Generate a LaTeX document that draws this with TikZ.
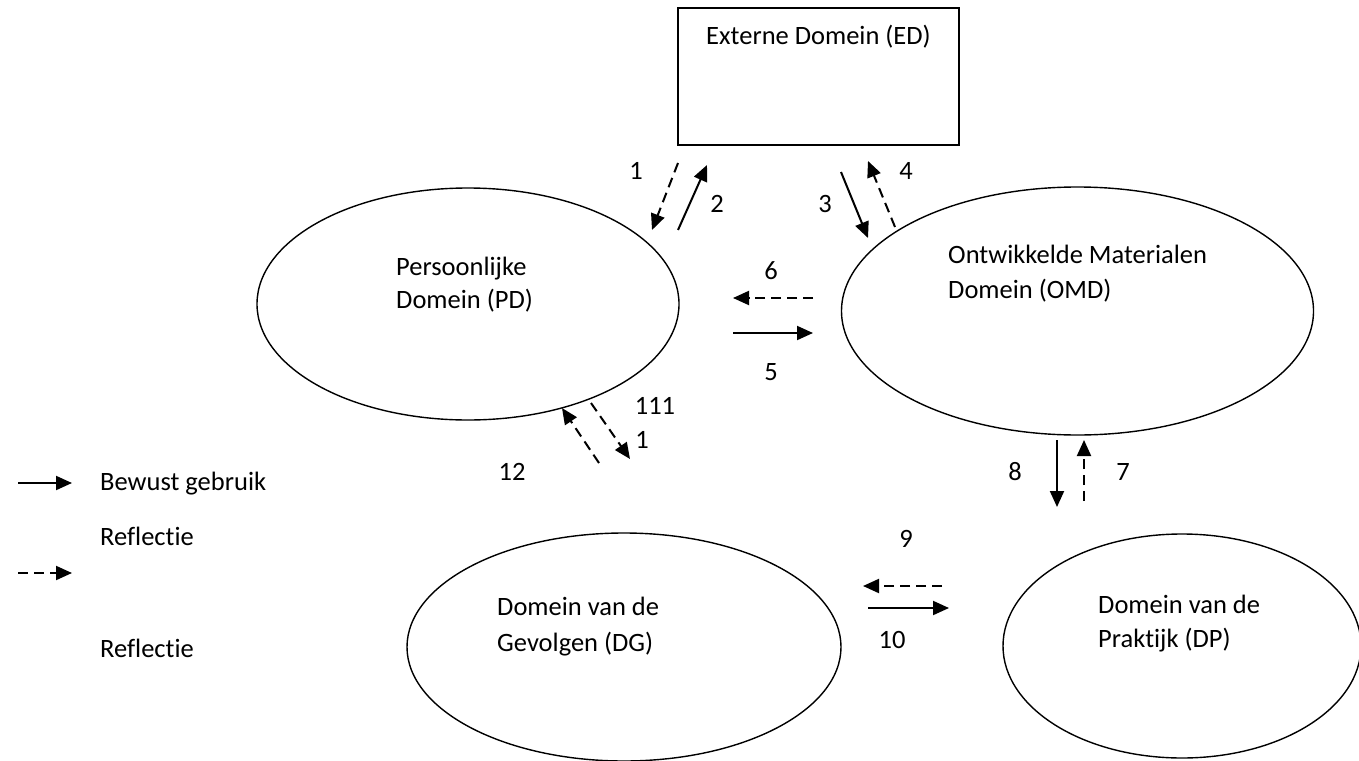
\documentclass[tikz,border=0pt]{standalone}
\usepackage{fontspec}
\setmainfont{Carlito}[Ligatures=NoCommon]
\usetikzlibrary{shapes.geometric,arrows.meta}
\begin{document}
\begin{tikzpicture}[x=1pt,y=-1pt,
  dom/.style={draw=black,line width=1.4pt,ellipse,inner sep=0pt},
  txt/.style={anchor=base west,inner sep=0pt,font=\fontsize{26.5}{34}\selectfont},
  num/.style={anchor=center,inner sep=0pt,font=\fontsize{26.5}{34}\selectfont},
  solidarrow/.style={line width=2pt,-{Triangle[length=16pt,width=14pt]}},
  dasharrow/.style={line width=2pt,dash pattern=on 10pt off 6pt,-{Triangle[length=16pt,width=14pt]}}]
\useasboundingbox (0,0) rectangle (1359,760);
\fill[white] (0,0) rectangle (1359,760);

% domains
\node[draw=black,line width=1.6pt,rectangle,minimum width=281pt,minimum height=137pt,inner sep=0pt] (ed) at (818.5,76.5) {};
\node[dom,minimum width=422pt,minimum height=232pt] (pd) at (468,304) {};
\node[dom,minimum width=472pt,minimum height=248pt] (omd) at (1077.5,311) {};
\node[dom,minimum width=434pt,minimum height=228pt] (dg) at (624,647) {};
\node[dom,minimum width=358pt,minimum height=224pt] (dp) at (1182,646) {};

% texts
\node[txt] (edt) at (706,45) {Externe Domein (ED)};
\node[txt] (pdt1) at (396,275) {Persoonlijke};
\node[txt] (pdt2) at (396,308) {Domein (PD)};
\node[txt] (omdt1) at (948,263) {Ontwikkelde Materialen};
\node[txt] (omdt2) at (948,298) {Domein (OMD)};
\node[txt] (dgt1) at (497,615) {Domein van de};
\node[txt] (dgt2) at (497,651) {Gevolgen (DG)};
\node[txt] (dpt1) at (1098,613) {Domein van de};
\node[txt] (dpt2) at (1098,647) {Praktijk (DP)};

% legend
\node[txt] (lg1) at (100,490) {Bewust gebruik};
\node[txt] (lg2) at (100,545) {Reflectie};
\node[txt] (lg3) at (100,657) {Reflectie};
\coordinate (ls1) at (18,483); \coordinate (le1) at (72,483);
\coordinate (ls2) at (18,573); \coordinate (le2) at (72,573);
\draw[solidarrow] (ls1) -- (le1);
\draw[dasharrow] (ls2) -- (le2);

% arrow end points
\coordinate (a1s) at (678,163); \coordinate (a1e) at (652,230);
\coordinate (a2s) at (678,230); \coordinate (a2e) at (707,165);
\coordinate (a3s) at (841,172); \coordinate (a3e) at (868,238);
\coordinate (a4s) at (895,227); \coordinate (a4e) at (868,161);
\coordinate (a6s) at (813,298); \coordinate (a6e) at (733,298);
\coordinate (a5s) at (733,333); \coordinate (a5e) at (813,333);
\coordinate (a11s) at (591,403); \coordinate (a11e) at (630,459);
\coordinate (a12s) at (599,463); \coordinate (a12e) at (562,408);
\coordinate (a8s) at (1057,440); \coordinate (a8e) at (1057,507);
\coordinate (a7s) at (1084,501); \coordinate (a7e) at (1084,440);
\coordinate (a9s) at (942,586); \coordinate (a9e) at (863,586);
\coordinate (a10s) at (868,608); \coordinate (a10e) at (949,608);

\draw[dasharrow] (a1s) -- (a1e);
\draw[solidarrow] (a2s) -- (a2e);
\draw[solidarrow] (a3s) -- (a3e);
\draw[dasharrow] (a4s) -- (a4e);
\draw[dasharrow] (a6s) -- (a6e);
\draw[solidarrow] (a5s) -- (a5e);
\draw[dasharrow] (a11s) -- (a11e);
\draw[dasharrow] (a12s) -- (a12e);
\draw[solidarrow] (a8s) -- (a8e);
\draw[dasharrow] (a7s) -- (a7e);
\draw[dasharrow] (a9s) -- (a9e);
\draw[solidarrow] (a10s) -- (a10e);

% numbers
\node[num] (n1) at (636,171) {1};
\node[num] (n2) at (717,204) {2};
\node[num] (n3) at (825,204) {3};
\node[num] (n4) at (906,171) {4};
\node[num] (n6) at (771,271) {6};
\node[num] (n5) at (771,372) {5};
\node[num] (n111) at (655,406) {111};
\node[num] (n1b) at (642,440) {1};
\node[num] (n12) at (512,472) {12};
\node[num] (n8) at (1015,472) {8};
\node[num] (n7) at (1123,472) {7};
\node[num] (n9) at (906,539) {9};
\node[num] (n10) at (892,640) {10};
\end{tikzpicture}
\end{document}
